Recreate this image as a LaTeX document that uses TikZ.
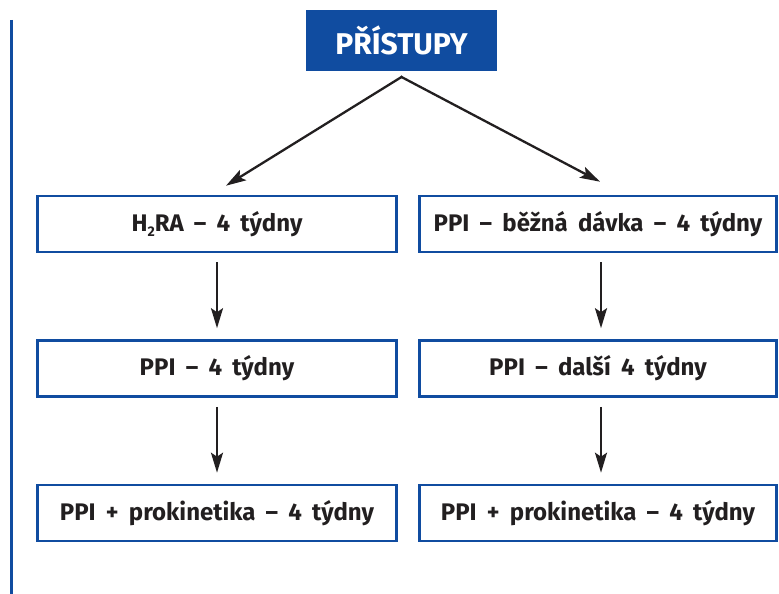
\documentclass[tikz,border=0pt]{standalone}
\usepackage{fontspec}
\setmainfont{Fira Sans}
\newfontfamily\boxfont{Fira Sans}[WordSpace=1.8]
\usetikzlibrary{arrows.meta}
\usetikzlibrary{calc}
\usetikzlibrary{positioning}
\definecolor{pblue}{RGB}{16,76,160}
\definecolor{ptext}{RGB}{34,31,32}
\newcommand{\lowtwo}{\raisebox{-5pt}{\fontsize{14}{14}\selectfont 2}}

\begin{document}
\begin{tikzpicture}[x=1pt, y=-1pt]
  \pgfmathsetmacro{\ROWD}{144.5}
  \pgfmathsetmacro{\COLD}{381}
\tikzset{
  topbox/.style={draw=pblue, fill=pblue, text=white, line width=1pt,
    minimum width=190pt, minimum height=60pt, align=center,
    font=\bfseries\fontsize{30}{34}\selectfont},
  stepbox/.style={draw=pblue, line width=2.6pt, text=ptext, align=center,
    minimum width=359pt, minimum height=56pt,
    font=\boxfont\bfseries\fontsize{24}{28}\selectfont},
  flow/.style={line width=2.3pt, draw=ptext,
    -{Stealth[length=20pt, width=12pt, inset=4pt]}},
}
\useasboundingbox (0,0) rectangle (779,594);

       % left rule
       \draw[pblue, line width=3pt] (11.3,20) -- (11.3,594);

       \node [topbox] (top) at (401.5, 40.5) {PŘÍSTUPY};

       % left column
       \node [stepbox] (h2ra) at (217, 224) {H\lowtwo RA – 4 týdny};
       \node [stepbox] (ppil) at ($(h2ra) + (0, \ROWD)$) {PPI – 4 týdny};
       \node [stepbox] (prokl) at ($(ppil) + (0, \ROWD)$)
       {PPI + prokinetika – 4 týdny};

       % right column
       \node [stepbox, minimum width=357pt] (ppir) at ($(h2ra) + (\COLD, 0)$)
       {PPI – běžná dávka – 4 týdny};
       \node [stepbox, minimum width=357pt] (dalsi) at ($(ppir) + (0, \ROWD)$)
       {PPI – další 4 týdny};
       \node [stepbox, minimum width=357pt] (prokr) at ($(dalsi) + (0, \ROWD)$)
       {PPI + prokinetika – 4 týdny};

       \coordinate (apex) at ($(top.south) + (0, 6)$);
       \coordinate (ltip) at ($(h2ra.north) + (9, -9)$);
       \coordinate (rtip) at ($(ppir.north) + (2, -13)$);

       \draw[flow, shorten <=-1pt] (apex) -- (ltip);
       \draw[flow, shorten <=-1pt] (apex) -- (rtip);

       \draw[flow, shorten <=9pt, shorten >=11pt] (h2ra.south) -- (ppil.north);
       \draw[flow, shorten <=9pt, shorten >=11pt] (ppil.south) -- (prokl.north);
       \draw[flow, shorten <=9pt, shorten >=11pt] ([xshift=3pt]ppir.south)
       -- ([xshift=3pt]dalsi.north);
       \draw[flow, shorten <=9pt, shorten >=11pt] ([xshift=3pt]dalsi.south)
       -- ([xshift=3pt]prokr.north);

\end{tikzpicture}
\end{document}
